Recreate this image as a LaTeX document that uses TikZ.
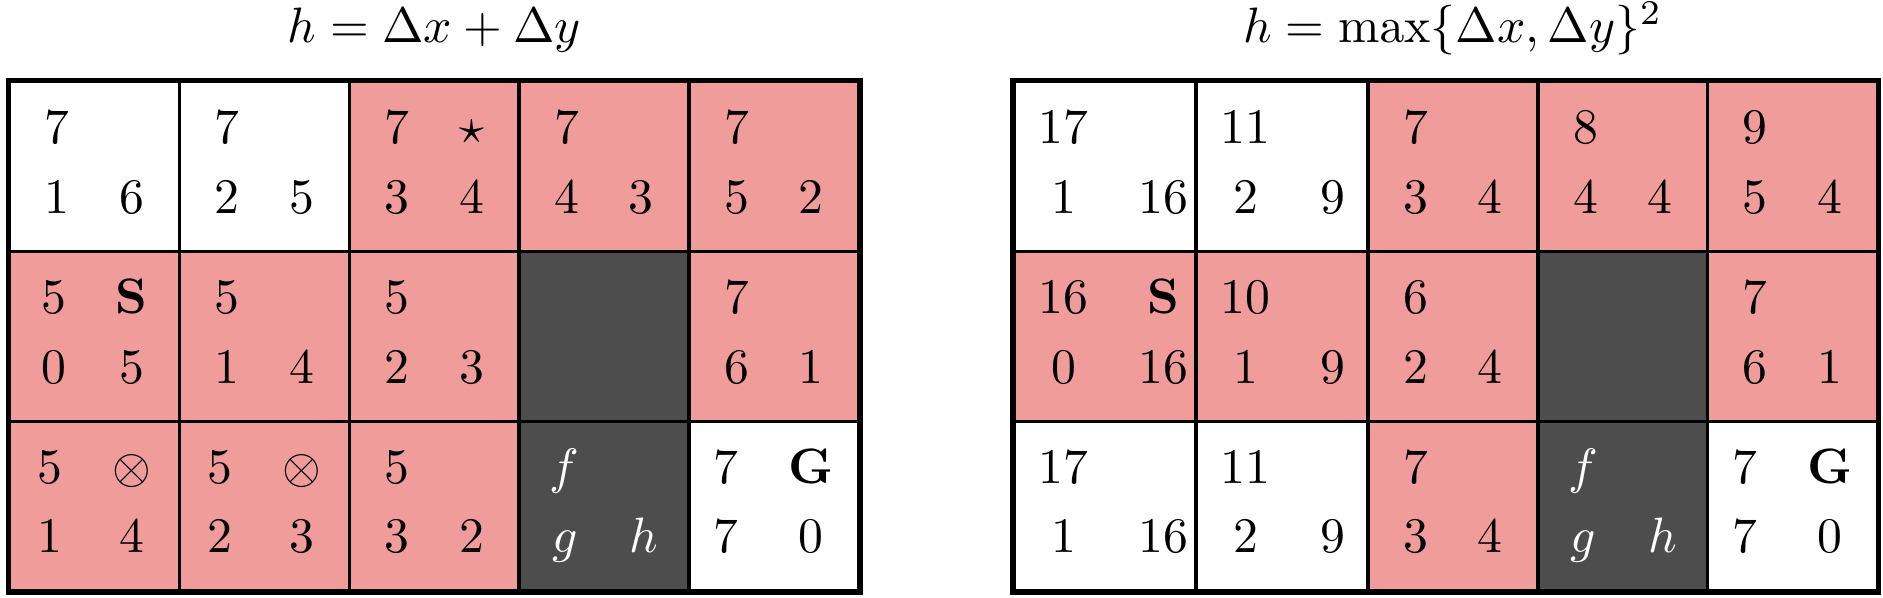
\documentclass[tikz,border=0pt]{standalone}
\usepackage{amsthm,amssymb,amsmath}
\usepackage{tikz}
\definecolor{seen}{RGB}{240,156,155}
\definecolor{wallgray}{RGB}{77,77,77}
\newcommand{\vals}[4]{$\begin{array}{cc} #1 & #2 \\[2pt] #3 & #4 \end{array}$}

\begin{document}
\begin{tikzpicture}[x=1.2cm, y=1.2cm,
        cell/.style={draw, line width=0.7pt, minimum size=1.2cm, inner sep=0pt},
        open/.style={cell, fill=white},
        closed/.style={cell, fill=seen},
        wall/.style={cell, fill=wallgray, text=white}]
        \useasboundingbox (-0.057,-0.035) rectangle (11.033,3.481);
        % left grid
        \node (ta) [anchor=base] at (2.5, 3.23) {$h = \Delta x + \Delta y$};
        \node (a0) [open] at (0.5, 2.5) {\vals{7}{}{1}{6}};
        \node (a1) [open] at (1.5, 2.5) {\vals{7}{}{2}{5}};
        \node (a2) [closed] at (2.5, 2.5) {\vals{7}{\star}{3}{4}};
        \node (a3) [closed] at (3.5, 2.5) {\vals{7}{}{4}{3}};
        \node (a4) [closed] at (4.5, 2.5) {\vals{7}{}{5}{2}};
        \node (a5) [closed] at (0.5, 1.5) {\vals{5}{\mathbf{S}}{0}{5}};
        \node (a6) [closed] at (1.5, 1.5) {\vals{5}{}{1}{4}};
        \node (a7) [closed] at (2.5, 1.5) {\vals{5}{}{2}{3}};
        \node (a8) [wall] at (3.5, 1.5) {};
        \node (a9) [closed] at (4.5, 1.5) {\vals{7}{}{6}{1}};
        \node (a10) [closed] at (0.5, 0.5) {\vals{5}{\otimes}{1}{4}};
        \node (a11) [closed] at (1.5, 0.5) {\vals{5}{\otimes}{2}{3}};
        \node (a12) [closed] at (2.5, 0.5) {\vals{5}{}{3}{2}};
        \node (a13) [wall] at (3.5, 0.5) {\vals{f}{}{g}{h}};
        \node (a14) [open] at (4.5, 0.5) {\vals{7}{\mathbf{G}}{7}{0}};
        \draw [line width=0.85pt] (a0.north west) rectangle (a14.south east);
        % right grid
        \node (tb) [anchor=base] at (8.5, 3.23) {$h = \max\{\Delta x, \Delta y\}^2$};
        \node (b0) [open] at (6.5, 2.5) {\vals{17}{}{1}{16}};
        \node (b1) [open] at (7.5, 2.5) {\vals{11}{}{2}{9}};
        \node (b2) [closed] at (8.5, 2.5) {\vals{7}{}{3}{4}};
        \node (b3) [closed] at (9.5, 2.5) {\vals{8}{}{4}{4}};
        \node (b4) [closed] at (10.5, 2.5) {\vals{9}{}{5}{4}};
        \node (b5) [closed] at (6.5, 1.5) {\vals{16}{\mathbf{S}}{0}{16}};
        \node (b6) [closed] at (7.5, 1.5) {\vals{10}{}{1}{9}};
        \node (b7) [closed] at (8.5, 1.5) {\vals{6}{}{2}{4}};
        \node (b8) [wall] at (9.5, 1.5) {};
        \node (b9) [closed] at (10.5, 1.5) {\vals{7}{}{6}{1}};
        \node (b10) [open] at (6.5, 0.5) {\vals{17}{}{1}{16}};
        \node (b11) [open] at (7.5, 0.5) {\vals{11}{}{2}{9}};
        \node (b12) [closed] at (8.5, 0.5) {\vals{7}{}{3}{4}};
        \node (b13) [wall] at (9.5, 0.5) {\vals{f}{}{g}{h}};
        \node (b14) [open] at (10.5, 0.5) {\vals{7}{\mathbf{G}}{7}{0}};
        \draw [line width=0.85pt] (b0.north west) rectangle (b14.south east);
\end{tikzpicture}
\end{document}
